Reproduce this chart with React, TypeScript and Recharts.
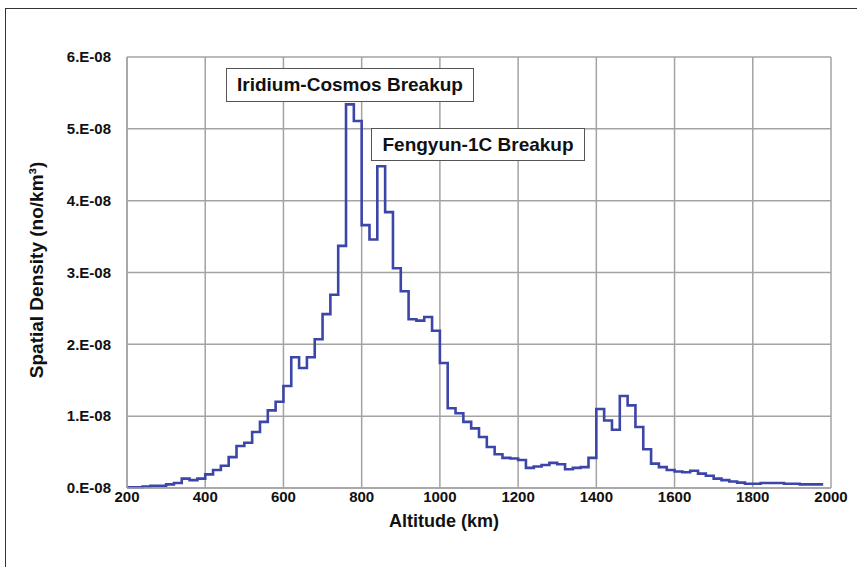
import React from 'react';
import { LineChart, Line, XAxis, YAxis, CartesianGrid } from 'recharts';

// Bin start altitudes (km); the last entry closes the final bin
const binStartKm = [
  200, 220, 240, 260, 280, 300, 320, 340, 360, 380,
  400, 420, 440, 460, 480, 500, 520, 540, 560, 580,
  600, 620, 640, 660, 680, 700, 720, 740, 760, 780,
  800, 820, 840, 860, 880, 900, 920, 940, 960, 980,
  1000, 1020, 1040, 1060, 1080, 1100, 1120, 1140, 1160, 1180,
  1200, 1220, 1240, 1260, 1280, 1300, 1320, 1340, 1360, 1380,
  1400, 1420, 1440, 1460, 1480, 1500, 1520, 1540, 1560, 1580,
  1600, 1620, 1640, 1660, 1680, 1700, 1720, 1740, 1760, 1780,
  1800, 1820, 1840, 1860, 1880, 1900, 1920, 1940, 1960, 1980,
];

// Spatial density per bin, in units of 1E-08 no/km^3
const densityE8 = [
  0.01, 0.01, 0.02, 0.03, 0.03, 0.05, 0.07, 0.13, 0.11, 0.13,
  0.19, 0.25, 0.31, 0.43, 0.585, 0.63, 0.78, 0.92, 1.08, 1.2,
  1.42, 1.82, 1.67, 1.82, 2.07, 2.42, 2.69, 3.37, 5.34, 5.11,
  3.66, 3.46, 4.48, 3.84, 3.06, 2.74, 2.35, 2.33, 2.38, 2.19,
  1.74, 1.11, 1.04, 0.92, 0.83, 0.71, 0.57, 0.47, 0.42, 0.41,
  0.39, 0.28, 0.3, 0.32, 0.35, 0.33, 0.26, 0.28, 0.29, 0.42,
  1.1, 0.94, 0.81, 1.28, 1.15, 0.85, 0.54, 0.34, 0.29, 0.25,
  0.23, 0.22, 0.24, 0.2, 0.17, 0.13, 0.11, 0.09, 0.075, 0.06,
  0.06, 0.07, 0.07, 0.07, 0.06, 0.06, 0.05, 0.05, 0.05,
];

const xTicks = [200, 400, 600, 800, 1000, 1200, 1400, 1600, 1800, 2000];
const yTicks = [0, 1, 2, 3, 4, 5, 6];
const yTickSuffix = '.E-08';
const xTitle = 'Altitude (km)';
const yTitle = 'Spatial Density (no/km³)';
const annotationTexts = ['Iridium-Cosmos Breakup', 'Fengyun-1C Breakup'];

const data = binStartKm.map((alt, i) => ({
  alt,
  density: densityE8[Math.min(i, densityE8.length - 1)],
}));

const FONT = '"Liberation Sans", Arial, Helvetica, sans-serif';
const GRID = '#a3a3a3';
const LINE = '#3c45a8';

const boxStyle = (left: number, top: number, width: number, height: number): React.CSSProperties => ({
  position: 'absolute',
  left,
  top,
  width,
  height,
  boxSizing: 'border-box',
  border: '1.5px solid #555',
  background: '#fff',
  fontFamily: FONT,
  fontWeight: 700,
  fontSize: 19,
  color: '#111',
  display: 'flex',
  alignItems: 'center',
  justifyContent: 'center',
  whiteSpace: 'nowrap',
});

export default function App() {
  return (
    <div style={{ position: 'absolute', left: 0, top: 0, width: 857, height: 567, background: '#fff', overflow: 'hidden' }}>
      <div
        style={{
          position: 'absolute',
          left: 5,
          top: 8,
          width: 900,
          height: 600,
          borderLeft: '1px solid #333',
          borderTop: '1px solid #333',
        }}
      />
      <LineChart
        width={857}
        height={567}
        data={data}
        margin={{ top: 57, right: 26, bottom: 49, left: 5 }}
        style={{ position: 'absolute', left: 0, top: 0 }}
      >
        <CartesianGrid stroke={GRID} strokeWidth={1.5} />
        <XAxis
          dataKey="alt"
          type="number"
          domain={[200, 2000]}
          ticks={xTicks}
          interval={0}
          height={30}
          tickLine={false}
          tickSize={0}
          tickMargin={3}
          axisLine={{ stroke: GRID, strokeWidth: 1.5 }}
          tick={{ fill: '#111', fontFamily: FONT, fontWeight: 700, fontSize: 15 }}
        />
        <YAxis
          type="number"
          domain={[0, 6]}
          ticks={yTicks}
          interval={0}
          width={122}
          tickLine={false}
          tickSize={0}
          tickMargin={16}
          axisLine={{ stroke: GRID, strokeWidth: 1.5 }}
          tickFormatter={(v: number) => `${v}${yTickSuffix}`}
          tick={{ fill: '#111', fontFamily: FONT, fontWeight: 700, fontSize: 15 }}
        />
        <Line
          type="stepAfter"
          dataKey="density"
          stroke={LINE}
          strokeWidth={2.6}
          dot={false}
          activeDot={false}
          isAnimationActive={false}
        />
      </LineChart>
      <div
        style={{
          position: 'absolute',
          left: 444 - 150,
          top: 511,
          width: 300,
          textAlign: 'center',
          fontFamily: FONT,
          fontWeight: 700,
          fontSize: 18,
          color: '#111',
        }}
      >
        {xTitle}
      </div>
      <div
        style={{
          position: 'absolute',
          left: 37 - 160,
          top: 270 - 12,
          width: 320,
          height: 24,
          lineHeight: '24px',
          textAlign: 'center',
          transform: 'rotate(-90deg)',
          fontFamily: FONT,
          fontWeight: 700,
          fontSize: 19,
          color: '#111',
        }}
      >
        {yTitle}
      </div>
      <div style={boxStyle(226, 68, 248, 34)}>{annotationTexts[0]}</div>
      <div style={boxStyle(371, 128, 214, 33)}>{annotationTexts[1]}</div>
    </div>
  );
}
